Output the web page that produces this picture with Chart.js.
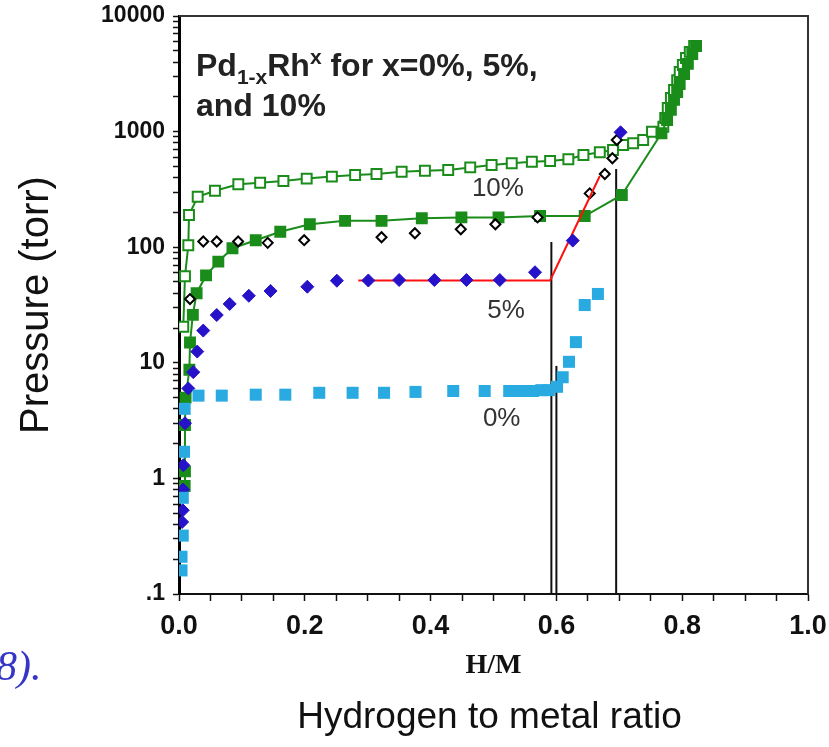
<!DOCTYPE html>
<html>
<head>
<meta charset="utf-8">
<script src="https://cdn.jsdelivr.net/npm/chart.js@4.4.1/dist/chart.umd.min.js"></script>
<style>
html, body { margin: 0; padding: 0; background: #fff; }
</style>
</head>
<body>
<canvas id="isothermChart" width="829" height="747"></canvas>
<script>
// 0% Rh (light blue squares)
const pd0X = [0.004, 0.004, 0.006, 0.006, 0.008, 0.009, 0.031, 0.068, 0.122, 0.169, 0.223, 0.276, 0.326, 0.376, 0.436, 0.486, 0.525, 0.537, 0.550, 0.563, 0.576, 0.588, 0.601, 0.610, 0.620, 0.631, 0.645, 0.666];
const pd0Y = [0.16, 0.21, 0.32, 0.68, 1.7, 4.0, 5.2, 5.2, 5.3, 5.3, 5.5, 5.5, 5.5, 5.6, 5.7, 5.7, 5.7, 5.7, 5.7, 5.7, 5.8, 5.8, 6.2, 7.5, 10.2, 15.1, 31.6, 39.4];

// 5% Rh (blue diamonds)
const rh5X = [0.005, 0.006, 0.0065, 0.007, 0.0095, 0.0148, 0.0227, 0.029, 0.0386, 0.060, 0.0806, 0.111, 0.1456, 0.204, 0.251, 0.301, 0.350, 0.406, 0.457, 0.510, 0.566, 0.626, 0.702];
const rh5Y = [0.42, 0.53, 0.8, 1.3, 3.0, 6.0, 8.3, 12.5, 19, 25.9, 32.3, 38, 41.8, 45.5, 51.3, 51.5, 52, 52, 52, 52, 60.7, 114, 986];

// 10% Rh absorption (filled green squares)
const rh10X = [0.009, 0.0095, 0.0095, 0.0105, 0.0165, 0.0175, 0.022, 0.028, 0.043, 0.0625, 0.085, 0.122, 0.161, 0.208, 0.264, 0.322, 0.386, 0.449, 0.508, 0.574, 0.645, 0.704, 0.767, 0.776, 0.782, 0.787, 0.792, 0.796, 0.803, 0.809, 0.816, 0.822];
const rh10Y = [0.86, 1.15, 2.9, 5.0, 8.7, 15, 26, 40, 57, 75, 98, 115, 136, 158, 169, 169, 178, 181, 181, 186, 186, 283, 967, 1260, 1540, 1880, 2200, 2580, 3150, 3850, 4690, 5500];

// 10% Rh (open green squares)
const open10X = [0.0068, 0.0095, 0.0148, 0.0159, 0.0297, 0.0572, 0.0943, 0.129, 0.166, 0.203, 0.243, 0.280, 0.314, 0.354, 0.391, 0.428, 0.463, 0.497, 0.529, 0.561, 0.590, 0.619, 0.643, 0.669, 0.690, 0.706, 0.722, 0.738, 0.752, 0.770, 0.773, 0.777, 0.782, 0.787, 0.792, 0.796, 0.801, 0.806, 0.812, 0.819];
const open10Y = [20.5, 56, 104, 190, 273, 308, 350, 361, 374, 392, 408, 421, 430, 450, 459, 465, 490, 514, 532, 549, 557, 576, 628, 663, 694, 766, 792, 846, 998, 1100, 1310, 1600, 1950, 2290, 2790, 3280, 3770, 4330, 4890, 5500];

// open black diamonds
const blackX = [0.0175, 0.0386, 0.060, 0.094, 0.141, 0.199, 0.322, 0.375, 0.448, 0.503, 0.570, 0.653, 0.677, 0.689, 0.696];
const blackY = [35.6, 112, 112, 112, 109, 115, 122, 132, 143, 158, 181, 292, 430, 588, 846];

// red plateau fit
const fitX = [0.285, 0.590, 0.669];
const fitY = [51.5, 51.5, 413];

// vertical markers
const markerX = [0.592, 0.600, 0.695];
const markerTop = [111, 9.4, 475];

const yMajor = [0.1, 1, 10, 100, 1000, 10000];

function pts(xs, ys) {
    return xs.map((x, i) => ({ x: x, y: ys[i] }));
}

const green = '#1a8c1a';

const datasets = [
    { data: pts(pd0X, pd0Y), pointStyle: 'rect', pointRadius: 8.5, backgroundColor: '#29abe2', borderWidth: 0, showLine: false },
    { data: pts(rh5X, rh5Y), pointStyle: 'rectRot', pointRadius: 6.5, backgroundColor: '#2612c8', borderColor: '#2612c8', borderWidth: 1, showLine: false },
    { data: pts(fitX, fitY), showLine: true, borderColor: '#ff1010', borderWidth: 2, pointRadius: 0 },
    { data: pts(blackX, blackY), pointStyle: 'rectRot', pointRadius: 5, backgroundColor: '#fff', borderColor: '#000', borderWidth: 2, showLine: false },
    { data: pts(rh10X, rh10Y), showLine: true, pointStyle: 'rect', pointRadius: 7, backgroundColor: green, borderColor: green, borderWidth: 2 },
    { data: pts(open10X, open10Y), showLine: true, pointStyle: 'rect', pointRadius: 7, backgroundColor: '#fff', borderColor: green, borderWidth: 2 }
];

markerX.forEach((x, i) => {
    datasets.push({ data: [{ x: x, y: 0.1 }, { x: x, y: markerTop[i] }], showLine: true, borderColor: '#111', borderWidth: 2, pointRadius: 0 });
});

// frame, annotations and axis titles
const extras = {
    id: 'extras',
    afterDraw(chart) {
        const ctx = chart.ctx;
        const a = chart.chartArea;
        const xs = chart.scales.x, ys = chart.scales.y;
        ctx.save();
        ctx.strokeStyle = '#333';
        ctx.lineWidth = 2;
        ctx.beginPath();
        ctx.moveTo(a.left, a.top);
        ctx.lineTo(a.right, a.top);
        ctx.lineTo(a.right, a.bottom);
        ctx.stroke();

        // title inside plot
        ctx.fillStyle = '#222';
        ctx.textBaseline = 'alphabetic';
        ctx.textAlign = 'left';
        let px = 196, base = 76;
        const parts = [
            ['Pd', 'bold 32px "Liberation Sans", Arial', 0],
            ['1-x', 'bold 21px "Liberation Sans", Arial', 8],
            ['Rh', 'bold 32px "Liberation Sans", Arial', 0],
            ['x', 'bold 21px "Liberation Sans", Arial', -12],
            [' for x=0%, 5%,', 'bold 32px "Liberation Sans", Arial', 0]
        ];
        parts.forEach(p => {
            ctx.font = p[1];
            ctx.fillText(p[0], px, base + p[2]);
            px += ctx.measureText(p[0]).width;
        });
        ctx.font = 'bold 32px "Liberation Sans", Arial';
        ctx.fillText('and 10%', 196, 116);

        // series labels
        ctx.font = '26px "Liberation Sans", Arial';
        ctx.fillStyle = '#333';
        ctx.textAlign = 'center';
        ctx.textBaseline = 'middle';
        ctx.fillText('10%', xs.getPixelForValue(0.507), ys.getPixelForValue(318));
        ctx.fillText('5%', xs.getPixelForValue(0.52), ys.getPixelForValue(28));
        ctx.fillText('0%', xs.getPixelForValue(0.513), ys.getPixelForValue(3.3));

        // axis titles
        ctx.fillStyle = '#111';
        ctx.font = 'bold 28px "Liberation Serif", "Times New Roman", serif';
        ctx.fillText('H/M', (a.left + a.right) / 2, 666);
        ctx.font = '37px "Liberation Sans", Arial';
        ctx.fillText('Hydrogen to metal ratio', (a.left + a.right) / 2 - 4, 718);

        ctx.save();
        ctx.translate(37, (a.top + a.bottom) / 2);
        ctx.rotate(-Math.PI / 2);
        ctx.font = '40px "Liberation Sans", Arial';
        ctx.fillText('Pressure (torr)', 0, 0);
        ctx.restore();

        // stray caption fragment
        ctx.fillStyle = '#3535c8';
        ctx.textAlign = 'left';
        ctx.textBaseline = 'alphabetic';
        ctx.font = 'italic 42px "Liberation Serif", "Times New Roman", serif';
        ctx.fillText('8).', -4, 680);
        ctx.restore();
    }
};

const ctx = document.getElementById('isothermChart').getContext('2d');
const chart = new Chart(ctx, {
    type: 'scatter',
    data: { datasets: datasets },
    options: {
        responsive: false,
        animation: false,
        layout: { padding: { top: 16, right: 21, left: 0, bottom: 0 } },
        plugins: { legend: { display: false }, tooltip: { enabled: false } },
        scales: {
            x: {
                type: 'linear',
                min: 0,
                max: 1,
                afterFit: s => { s.height = 153; s.paddingLeft = 0; s.paddingRight = 0; },
                ticks: {
                    stepSize: 0.05,
                    autoSkip: false,
                    maxRotation: 0,
                    padding: 9,
                    color: '#111',
                    font: { family: '"Liberation Sans", Arial', size: 27, weight: 'bold' },
                    callback: v => (Math.round(v * 100) % 20 === 0 ? v.toFixed(1) : '')
                },
                grid: { drawOnChartArea: false, tickLength: 7, color: '#111', tickWidth: 1.5 },
                border: { color: '#111', width: 2 }
            },
            y: {
                type: 'logarithmic',
                min: 0.1,
                max: 10000,
                afterFit: s => { s.width = 179; s.paddingTop = 0; s.paddingBottom = 0; },
                afterBuildTicks: s => {
                    const t = [];
                    for (let e = -1; e <= 4; e++) {
                        for (let m = 1; m <= 9; m++) {
                            const v = +(m * Math.pow(10, e)).toPrecision(3);
                            if (v <= 10000) t.push({ value: v });
                        }
                    }
                    s.ticks = t;
                },
                ticks: {
                    autoSkip: false,
                    padding: 8,
                    color: '#111',
                    font: { family: '"Liberation Sans", Arial', size: 23, weight: 'bold' },
                    callback: v => {
                        if (!yMajor.includes(v)) return '';
                        return v === 0.1 ? '.1' : String(v);
                    }
                },
                grid: { drawOnChartArea: false, tickLength: 6, color: '#111', tickWidth: 1.5 },
                border: { color: '#000', width: 3 }
            }
        }
    },
    plugins: [extras]
});
</script>
</body>
</html>
